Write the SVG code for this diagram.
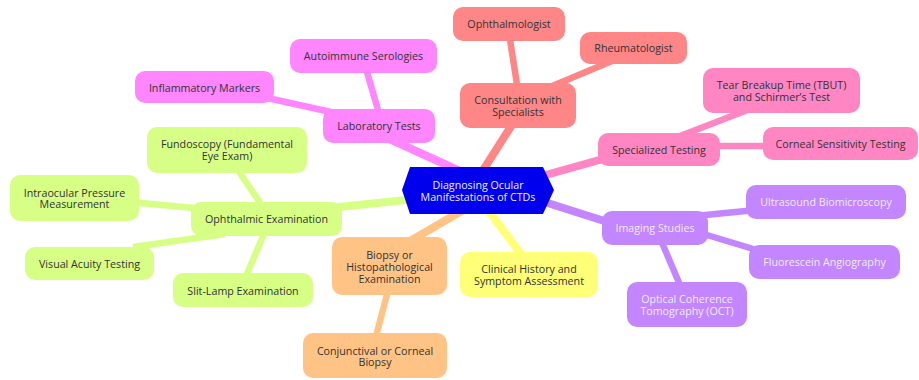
<svg xmlns="http://www.w3.org/2000/svg" width="919" height="380" viewBox="0 0 919 380">
<style>
text{font-family:"Open Sans","Noto Sans","DejaVu Sans",sans-serif;font-size:10.7px;fill:#333;text-anchor:middle;dominant-baseline:central}
.e1{stroke-width:8;fill:none;stroke-linecap:butt}
.e2{stroke-width:6.5;fill:none;stroke-linecap:butt}
.grn{stroke:#d7ff86}.grnf{fill:#d7ff86}
.mag{stroke:#ff86ff}.magf{fill:#ff86ff}
.red{stroke:#ff8686}.redf{fill:#ff8686}
.pnk{stroke:#ff86c3}.pnkf{fill:#ff86c3}
.pur{stroke:#c386ff}.purf{fill:#c386ff}
.yel{stroke:#ffff78}.yelf{fill:#ffff78}
.org{stroke:#ffc386}.orgf{fill:#ffc386}
.lt{fill:#ececff}
</style>
<g id="connectors">
<line class="e1 grn" x1="320" y1="209" x2="425" y2="198"/>
<line class="e1 mag" x1="385" y1="137" x2="462" y2="172"/>
<line class="e1 red" x1="515" y1="120" x2="480" y2="175"/>
<line class="e1 pnk" x1="535" y1="178" x2="610" y2="157"/>
<line class="e1 pur" x1="535" y1="199" x2="620" y2="226"/>
<line class="e1 yel" x1="485" y1="206" x2="527" y2="262"/>
<line class="e1 org" x1="405" y1="244" x2="465" y2="209"/>
<line class="e2 grn" x1="233" y1="163" x2="265" y2="210"/>
<line class="e2 grn" x1="130" y1="202" x2="205" y2="209"/>
<line class="e2 grn" x1="133" y1="247" x2="225" y2="234"/>
<line class="e2 grn" x1="243" y1="283" x2="267" y2="227"/>
<line class="e2 mag" x1="365" y1="65" x2="380" y2="117"/>
<line class="e2 mag" x1="263" y1="97" x2="340" y2="114"/>
<line class="e2 red" x1="509" y1="33" x2="518" y2="91"/>
<line class="e2 red" x1="545" y1="89" x2="612" y2="61"/>
<line class="e2 pnk" x1="680" y1="136" x2="750" y2="109"/>
<line class="e2 pnk" x1="712" y1="146" x2="772" y2="146"/>
<line class="e2 pur" x1="695" y1="216" x2="756" y2="210"/>
<line class="e2 pur" x1="697" y1="232" x2="760" y2="251"/>
<line class="e2 pur" x1="660" y1="238" x2="683" y2="292"/>
<line class="e2 org" x1="389" y1="287" x2="375" y2="340"/>
</g>
<g id="root">
<polygon points="402,190 410,167 543,167 554,190 543,214 410,214" fill="#0000ec"/>
<text class="lt" x="478" y="185">Diagnosing Ocular</text>
<text class="lt" x="478" y="196.5">Manifestations of CTDs</text>
</g>
<g id="ophthalmic">
<rect class="grnf" x="191" y="202" width="151" height="34" rx="10"/>
<text x="266.5" y="219">Ophthalmic Examination</text>
</g>
<g id="fundoscopy">
<rect class="grnf" x="147" y="127" width="160" height="46" rx="10"/>
<text x="227" y="144">Fundoscopy (Fundamental</text>
<text x="227" y="155.5">Eye Exam)</text>
</g>
<g id="intraocular">
<rect class="grnf" x="10" y="175" width="129" height="46" rx="10"/>
<text x="74.5" y="192.5">Intraocular Pressure</text>
<text x="74.5" y="204">Measurement</text>
</g>
<g id="visual">
<rect class="grnf" x="25" y="247" width="129" height="33" rx="10"/>
<text x="89.5" y="263.5">Visual Acuity Testing</text>
</g>
<g id="slitlamp">
<rect class="grnf" x="173" y="273" width="140" height="34" rx="10"/>
<text x="243" y="290.5">Slit-Lamp Examination</text>
</g>
<g id="lab">
<rect class="magf" x="323" y="109" width="112" height="34" rx="10"/>
<text x="379" y="126">Laboratory Tests</text>
</g>
<g id="autoimmune">
<rect class="magf" x="290" y="39" width="147" height="34" rx="10"/>
<text x="363.5" y="56">Autoimmune Serologies</text>
</g>
<g id="inflammatory">
<rect class="magf" x="135" y="71" width="139" height="32" rx="10"/>
<text x="204.5" y="87.5">Inflammatory Markers</text>
</g>
<g id="consult">
<rect class="redf" x="460" y="83" width="116" height="45" rx="10"/>
<text x="518" y="100">Consultation with</text>
<text x="518" y="111.5">Specialists</text>
</g>
<g id="ophthalmologist">
<rect class="redf" x="453" y="7" width="112" height="34" rx="10"/>
<text x="509" y="24">Ophthalmologist</text>
</g>
<g id="rheumatologist">
<rect class="redf" x="580" y="32" width="107" height="32" rx="10"/>
<text x="633.5" y="48">Rheumatologist</text>
</g>
<g id="specialized">
<rect class="pnkf" x="598" y="133" width="122" height="33" rx="10"/>
<text x="659" y="149.5">Specialized Testing</text>
</g>
<g id="tear">
<rect class="pnkf" x="703" y="68" width="157" height="45" rx="10"/>
<text x="781.5" y="85">Tear Breakup Time (TBUT)</text>
<text x="781.5" y="96.5">and Schirmer’s Test</text>
</g>
<g id="corneal">
<rect class="pnkf" x="763" y="127" width="155" height="33" rx="10"/>
<text x="840.5" y="144">Corneal Sensitivity Testing</text>
</g>
<g id="imaging">
<rect class="purf" x="602" y="211" width="106" height="34" rx="10"/>
<text class="lt" x="655" y="228">Imaging Studies</text>
</g>
<g id="ultrasound">
<rect class="purf" x="746" y="185" width="160" height="34" rx="10"/>
<text class="lt" x="826" y="202">Ultrasound Biomicroscopy</text>
</g>
<g id="fluorescein">
<rect class="purf" x="749" y="245" width="151" height="34" rx="10"/>
<text class="lt" x="824.5" y="262">Fluorescein Angiography</text>
</g>
<g id="oct">
<rect class="purf" x="627" y="282" width="120" height="45" rx="10"/>
<text class="lt" x="687" y="299">Optical Coherence</text>
<text class="lt" x="687" y="310.5">Tomography (OCT)</text>
</g>
<g id="clinical">
<rect class="yelf" x="460" y="252" width="138" height="45" rx="10"/>
<text x="529" y="269">Clinical History and</text>
<text x="529" y="280.5">Symptom Assessment</text>
</g>
<g id="biopsy">
<rect class="orgf" x="332" y="237" width="115" height="58" rx="10"/>
<text x="389.5" y="254.5">Biopsy or</text>
<text x="389.5" y="266.5">Histopathological</text>
<text x="389.5" y="278.5">Examination</text>
</g>
<g id="conjunctival">
<rect class="orgf" x="303" y="333" width="144" height="45" rx="10"/>
<text x="375" y="350.5">Conjunctival or Corneal</text>
<text x="375" y="362">Biopsy</text>
</g>
</svg>
